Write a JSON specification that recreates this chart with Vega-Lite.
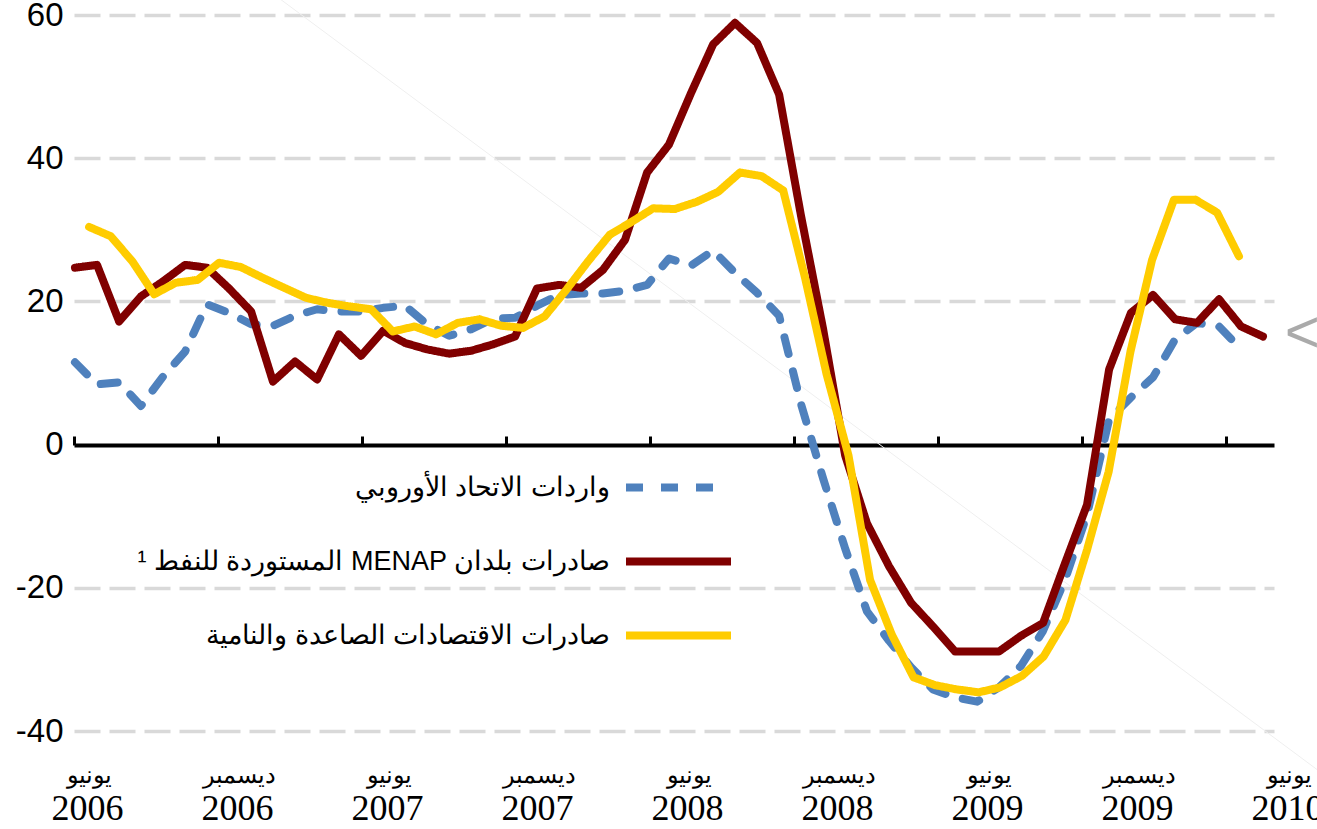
{
  "$schema": "https://vega.github.io/schema/vega-lite/v6.json",
  "width": 1200,
  "height": 716,
  "autosize": {"type": "none"},
  "padding": {"left": 74, "top": 15, "right": 43, "bottom": 98},
  "background": "white",
  "config": {"view": {"stroke": null}},
  "data": {"values": [
    {"series":"eu","month":0.04,"pct":11.5},{"series":"eu","month":0.96,"pct":8.4},{"series":"eu","month":1.88,"pct":8.7},{"series":"eu","month":2.79,"pct":5.4},{"series":"eu","month":3.71,"pct":9.5},{"series":"eu","month":4.63,"pct":13.0},{"series":"eu","month":5.54,"pct":19.6},{"series":"eu","month":6.46,"pct":18.4},{"series":"eu","month":7.38,"pct":16.8},{"series":"eu","month":8.29,"pct":16.6},{"series":"eu","month":9.21,"pct":18.0},{"series":"eu","month":10.13,"pct":18.9},{"series":"eu","month":11.04,"pct":18.6},{"series":"eu","month":11.96,"pct":18.6},{"series":"eu","month":12.88,"pct":19.1},{"series":"eu","month":13.79,"pct":19.4},{"series":"eu","month":14.71,"pct":16.8},{"series":"eu","month":15.63,"pct":15.2},{"series":"eu","month":16.54,"pct":16.1},{"series":"eu","month":17.46,"pct":17.6},{"series":"eu","month":18.38,"pct":17.7},{"series":"eu","month":19.29,"pct":19.4},{"series":"eu","month":20.21,"pct":20.9},{"series":"eu","month":21.13,"pct":21.1},{"series":"eu","month":22.04,"pct":21.1},{"series":"eu","month":22.96,"pct":21.5},{"series":"eu","month":23.88,"pct":22.3},{"series":"eu","month":24.79,"pct":26.0},{"series":"eu","month":25.71,"pct":25.0},{"series":"eu","month":26.63,"pct":27.1},{"series":"eu","month":27.54,"pct":24.0},{"series":"eu","month":28.46,"pct":21.2},{"series":"eu","month":29.38,"pct":18.0},{"series":"eu","month":30.29,"pct":5.7},{"series":"eu","month":31.21,"pct":-4.7},{"series":"eu","month":32.13,"pct":-14.5},{"series":"eu","month":33.04,"pct":-23.3},{"series":"eu","month":33.96,"pct":-27.4},{"series":"eu","month":34.88,"pct":-31.1},{"series":"eu","month":35.79,"pct":-34.2},{"series":"eu","month":36.71,"pct":-35.3},{"series":"eu","month":37.63,"pct":-35.9},{"series":"eu","month":38.54,"pct":-33.9},{"series":"eu","month":39.46,"pct":-30.9},{"series":"eu","month":40.38,"pct":-26.0},{"series":"eu","month":41.29,"pct":-18.9},{"series":"eu","month":42.21,"pct":-9.8},{"series":"eu","month":43.13,"pct":3.5},{"series":"eu","month":44.04,"pct":6.6},{"series":"eu","month":44.96,"pct":9.4},{"series":"eu","month":45.88,"pct":14.7},{"series":"eu","month":46.79,"pct":17.0},{"series":"eu","month":47.71,"pct":16.5},{"series":"eu","month":48.63,"pct":13.3},
    {"series":"menap","month":0.04,"pct":24.7},{"series":"menap","month":0.96,"pct":25.1},{"series":"menap","month":1.88,"pct":17.2},{"series":"menap","month":2.79,"pct":20.7},{"series":"menap","month":3.71,"pct":22.8},{"series":"menap","month":4.63,"pct":25.1},{"series":"menap","month":5.54,"pct":24.7},{"series":"menap","month":6.46,"pct":21.8},{"series":"menap","month":7.38,"pct":18.6},{"series":"menap","month":8.29,"pct":8.8},{"series":"menap","month":9.21,"pct":11.6},{"series":"menap","month":10.13,"pct":9.1},{"series":"menap","month":11.04,"pct":15.4},{"series":"menap","month":11.96,"pct":12.4},{"series":"menap","month":12.88,"pct":15.9},{"series":"menap","month":13.79,"pct":14.2},{"series":"menap","month":14.71,"pct":13.3},{"series":"menap","month":15.63,"pct":12.7},{"series":"menap","month":16.54,"pct":13.1},{"series":"menap","month":17.46,"pct":14.0},{"series":"menap","month":18.38,"pct":15.1},{"series":"menap","month":19.29,"pct":21.8},{"series":"menap","month":20.21,"pct":22.3},{"series":"menap","month":21.13,"pct":21.9},{"series":"menap","month":22.04,"pct":24.4},{"series":"menap","month":22.96,"pct":28.6},{"series":"menap","month":23.88,"pct":38.0},{"series":"menap","month":24.79,"pct":41.9},{"series":"menap","month":25.71,"pct":49.1},{"series":"menap","month":26.63,"pct":55.9},{"series":"menap","month":27.54,"pct":58.9},{"series":"menap","month":28.46,"pct":56.1},{"series":"menap","month":29.38,"pct":48.9},{"series":"menap","month":30.29,"pct":32.0},{"series":"menap","month":31.21,"pct":16.2},{"series":"menap","month":32.13,"pct":-1.5},{"series":"menap","month":33.04,"pct":-11.0},{"series":"menap","month":33.96,"pct":-17.0},{"series":"menap","month":34.88,"pct":-22.1},{"series":"menap","month":35.79,"pct":-25.4},{"series":"menap","month":36.71,"pct":-28.9},{"series":"menap","month":37.63,"pct":-28.9},{"series":"menap","month":38.54,"pct":-28.9},{"series":"menap","month":39.46,"pct":-26.7},{"series":"menap","month":40.38,"pct":-24.9},{"series":"menap","month":41.29,"pct":-16.6},{"series":"menap","month":42.21,"pct":-8.4},{"series":"menap","month":43.13,"pct":10.5},{"series":"menap","month":44.04,"pct":18.4},{"series":"menap","month":44.96,"pct":20.9},{"series":"menap","month":45.88,"pct":17.5},{"series":"menap","month":46.79,"pct":17.0},{"series":"menap","month":47.71,"pct":20.3},{"series":"menap","month":48.63,"pct":16.5},{"series":"menap","month":49.54,"pct":15.1},
    {"series":"em","month":0.63,"pct":30.4},{"series":"em","month":1.53,"pct":29.1},{"series":"em","month":2.43,"pct":25.6},{"series":"em","month":3.34,"pct":21.0},{"series":"em","month":4.24,"pct":22.6},{"series":"em","month":5.15,"pct":23.0},{"series":"em","month":6.05,"pct":25.4},{"series":"em","month":6.95,"pct":24.8},{"series":"em","month":7.86,"pct":23.3},{"series":"em","month":8.76,"pct":21.9},{"series":"em","month":9.67,"pct":20.5},{"series":"em","month":10.57,"pct":19.8},{"series":"em","month":11.47,"pct":19.3},{"series":"em","month":12.38,"pct":18.9},{"series":"em","month":13.28,"pct":15.8},{"series":"em","month":14.19,"pct":16.5},{"series":"em","month":15.09,"pct":15.4},{"series":"em","month":15.99,"pct":17.0},{"series":"em","month":16.9,"pct":17.5},{"series":"em","month":17.8,"pct":16.6},{"series":"em","month":18.71,"pct":16.3},{"series":"em","month":19.61,"pct":17.9},{"series":"em","month":20.51,"pct":21.6},{"series":"em","month":21.42,"pct":25.6},{"series":"em","month":22.32,"pct":29.3},{"series":"em","month":23.23,"pct":31.1},{"series":"em","month":24.13,"pct":33.0},{"series":"em","month":25.03,"pct":32.9},{"series":"em","month":25.94,"pct":33.9},{"series":"em","month":26.84,"pct":35.3},{"series":"em","month":27.75,"pct":38.0},{"series":"em","month":28.65,"pct":37.5},{"series":"em","month":29.55,"pct":35.5},{"series":"em","month":30.46,"pct":23.3},{"series":"em","month":31.36,"pct":9.8},{"series":"em","month":32.27,"pct":-1.5},{"series":"em","month":33.17,"pct":-18.9},{"series":"em","month":34.07,"pct":-26.5},{"series":"em","month":34.98,"pct":-32.5},{"series":"em","month":35.88,"pct":-33.6},{"series":"em","month":36.79,"pct":-34.2},{"series":"em","month":37.69,"pct":-34.6},{"series":"em","month":38.59,"pct":-33.9},{"series":"em","month":39.5,"pct":-32.3},{"series":"em","month":40.4,"pct":-29.6},{"series":"em","month":41.31,"pct":-24.5},{"series":"em","month":42.21,"pct":-14.7},{"series":"em","month":43.11,"pct":-3.8},{"series":"em","month":44.02,"pct":13.0},{"series":"em","month":44.92,"pct":25.8},{"series":"em","month":45.83,"pct":34.2},{"series":"em","month":46.73,"pct":34.2},{"series":"em","month":47.63,"pct":32.4},{"series":"em","month":48.54,"pct":26.3}
  ]},
  "resolve": {"axis": {"x": "independent"}},
  "layer": [
    {
      "data": {"values": [{}]},
      "mark": {"type": "rule", "color": "#efefef", "strokeWidth": 1},
      "encoding": {
        "x": {"datum": 8.6, "type": "quantitative", "scale": {"domain": [0, 50]},
          "axis": {"orient": "bottom", "values": [0, 6, 12, 18, 24, 30, 36, 42, 48], "domain": false, "ticks": false, "tickSize": 0, "grid": false, "title": null,
            "labelPadding": 44, "labelBaseline": "middle", "labelFont": "Liberation Sans", "labelFontSize": 24, "labelColor": "black",
            "labelOffset": {"expr": "15 + datum.value"}, "labelFlush": false, "labelOverlap": false, "labelBound": false,
            "labelExpr": "datum.value % 12 === 0 ? 'يونيو' : 'ديسمبر'"}},
        "x2": {"datum": 51.8},
        "y": {"datum": 62.2, "type": "quantitative", "scale": {"domain": [-40, 60], "nice": false},
          "axis": {"values": [-40, -20, 0, 20, 40, 60], "domain": false, "ticks": false, "tickSize": 0, "title": null,
            "labelPadding": 11, "labelFont": "Liberation Sans", "labelFontSize": 33, "labelColor": "black", "labelExpr": "'' + datum.value",
            "grid": true, "gridColor": "#d9d9d9", "gridWidth": 3.5, "gridDash": [26, 9],
            "gridOpacity": {"condition": {"test": "datum.value === 0", "value": 0}, "value": 1}}},
        "y2": {"datum": -45.4}
      }
    },
    {
      "mark": {"type": "line", "strokeWidth": 8, "strokeCap": "round", "strokeJoin": "round"},
      "encoding": {
        "x": {"field": "month", "type": "quantitative", "scale": {"domain": [0, 50]},
          "axis": {"orient": "top", "offset": -430, "values": [0, 6, 12, 18, 24, 30, 36, 42, 48], "labels": false, "grid": false, "title": null,
            "domain": true, "domainColor": "black", "domainWidth": 4, "ticks": true, "tickColor": "black", "tickWidth": 3, "tickSize": 9}},
        "y": {"field": "pct", "type": "quantitative", "scale": {"domain": [-40, 60], "nice": false},
          "axis": {"values": [-40, -20, 0, 20, 40, 60], "domain": false, "ticks": false, "tickSize": 0, "title": null,
            "labelPadding": 11, "labelFont": "Liberation Sans", "labelFontSize": 33, "labelColor": "black", "labelExpr": "'' + datum.value",
            "grid": true, "gridColor": "#d9d9d9", "gridWidth": 3.5, "gridDash": [26, 9],
            "gridOpacity": {"condition": {"test": "datum.value === 0", "value": 0}, "value": 1}}},
        "color": {"field": "series", "type": "nominal",
          "scale": {"domain": ["eu", "menap", "em"], "range": ["#4f81bd", "#800000", "#ffcc00"]},
          "legend": {"orient": "none", "legendX": 548, "legendY": 416, "direction": "vertical", "title": null, "padding": 0,
            "symbolType": "stroke", "symbolSize": 11025, "symbolStrokeWidth": 8,
            "labelFont": "Liberation Sans", "labelFontSize": 27, "labelColor": "black", "labelAlign": "right", "labelOffset": -125, "labelLimit": 1000,
            "rowPadding": 1,
            "labelExpr": "datum.label === 'eu' ? 'واردات الاتحاد الأوروبي' : datum.label === 'menap' ? '\u202bصادرات بلدان MENAP المستوردة للنفط ¹\u202c' : 'صادرات الاقتصادات الصاعدة والنامية'"}},
        "strokeDash": {"field": "series", "type": "nominal",
          "scale": {"domain": ["eu", "menap", "em"], "range": [[17, 18], [1, 0], [1, 0]]}}
      }
    },
    {
      "data": {"values": [{}]},
      "mark": {"type": "text", "text": "<", "font": "Liberation Sans", "fontSize": 60, "color": "#aaaaaa", "align": "left", "baseline": "middle"},
      "encoding": {
        "x": {"datum": 50.45, "type": "quantitative", "scale": {"domain": [0, 50]},
          "axis": {"orient": "bottom", "values": [0, 6, 12, 18, 24, 30, 36, 42, 48], "domain": false, "ticks": false, "tickSize": 0, "grid": false, "title": null,
            "labelPadding": 77, "labelBaseline": "middle", "labelFont": "Liberation Serif", "labelFontSize": 36, "labelColor": "black",
            "labelOffset": {"expr": "13 + datum.value"}, "labelFlush": false, "labelOverlap": false, "labelBound": false,
            "labelExpr": "'' + (2006 + floor(datum.value / 12))"}},
        "y": {"datum": 15.4, "type": "quantitative", "scale": {"domain": [-40, 60], "nice": false},
          "axis": {"values": [-40, -20, 0, 20, 40, 60], "domain": false, "ticks": false, "tickSize": 0, "title": null,
            "labelPadding": 11, "labelFont": "Liberation Sans", "labelFontSize": 33, "labelColor": "black", "labelExpr": "'' + datum.value",
            "grid": true, "gridColor": "#d9d9d9", "gridWidth": 3.5, "gridDash": [26, 9],
            "gridOpacity": {"condition": {"test": "datum.value === 0", "value": 0}, "value": 1}}}
      }
    }
  ]
}
